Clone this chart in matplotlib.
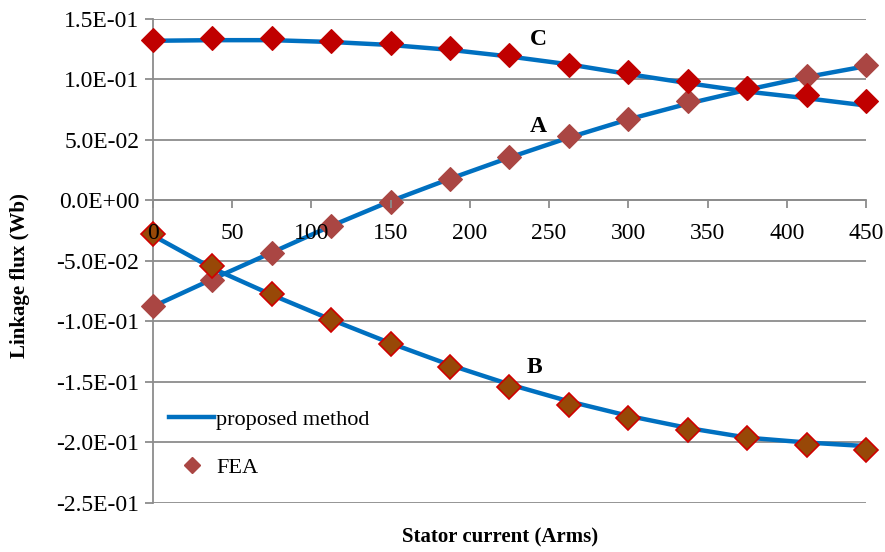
import matplotlib
matplotlib.use("Agg")
import matplotlib.pyplot as plt
from matplotlib.ticker import FuncFormatter, MultipleLocator
from matplotlib.lines import Line2D

plt.rcParams['font.family'] = ['Liberation Serif', 'DejaVu Serif']

# Stator current sample points (Arms)
current = [0, 37.5, 75, 112.5, 150, 187.5, 225, 262.5, 300, 337.5, 375, 412.5, 450]

# Proposed method (analytical) linkage flux per phase (Wb)
model_a = [-0.0876, -0.065, -0.043, -0.021, -0.0005, 0.018, 0.0355, 0.052, 0.067, 0.080, 0.0915, 0.102, 0.111]
model_b = [-0.029, -0.056, -0.078, -0.0985, -0.118, -0.136, -0.152, -0.166, -0.178, -0.188, -0.196, -0.200, -0.203]
model_c = [0.132, 0.1325, 0.1325, 0.131, 0.1285, 0.1245, 0.119, 0.1125, 0.1045, 0.097, 0.090, 0.0845, 0.0785]

# FEA results per phase (Wb)
fea_a = [-0.0876, -0.066, -0.043, -0.0207, -0.001, 0.018, 0.036, 0.053, 0.067, 0.082, 0.093, 0.1025, 0.1116]
fea_b = [-0.028, -0.054, -0.077, -0.099, -0.119, -0.138, -0.154, -0.169, -0.180, -0.190, -0.1967, -0.2017, -0.2066]
fea_c = [0.133, 0.134, 0.134, 0.132, 0.130, 0.126, 0.120, 0.112, 0.1066, 0.099, 0.0926, 0.0868, 0.082]

phase_labels = ["A", "B", "C"]
label_pos = [(238, 0.0615), (236, -0.138), (238, 0.133)]

fig = plt.figure(figsize=(8.85, 5.52), dpi=100)
ax = fig.add_axes([0.1729, 0.0888, 0.8056, 0.8768])

line_color = "#0070C0"
grid_color = "#8C8C8C"

for ys in (model_a, model_b, model_c):
    ax.plot(current, ys, color=line_color, lw=3.2, solid_capstyle="round", zorder=3)

ax.plot(current, fea_a, ls="none", marker="D", ms=12, mfc="#AA4643", mec="#AA4643",
        mew=0.8, zorder=4, clip_on=False)
ax.plot(current, fea_b, ls="none", marker="D", ms=12, mfc="#984807", mec="#D00000",
        mew=1.2, zorder=5, clip_on=False)
ax.plot(current, fea_c, ls="none", marker="D", ms=12, mfc="#C00000", mec="#C00000",
        mew=0.8, zorder=4, clip_on=False)

for lab, (lx, ly) in zip(phase_labels, label_pos):
    ax.text(lx, ly, lab, fontsize=17, fontweight="bold", ha="left", va="center", zorder=6)

ax.set_xlim(0, 450)
ax.set_ylim(-0.25, 0.15)
ax.xaxis.set_major_locator(MultipleLocator(50))
ax.yaxis.set_major_locator(MultipleLocator(0.05))
ax.yaxis.set_major_formatter(FuncFormatter(lambda v, p: f"{round(v, 6) + 0.0:.1E}"))

ax.grid(axis="y", color=grid_color, lw=1.3, zorder=0)
ax.set_axisbelow(True)
# x tick labels sit on top of the markers
ax.xaxis.set_zorder(6)

for side in ("top", "right"):
    ax.spines[side].set_visible(False)
ax.spines["left"].set_color(grid_color)
ax.spines["left"].set_linewidth(1.3)
ax.spines["bottom"].set_position(("data", 0))
ax.spines["bottom"].set_color(grid_color)
ax.spines["bottom"].set_linewidth(1.3)
ax.spines["bottom"].set_zorder(0.5)

ax.tick_params(axis="x", direction="out", length=6, width=1.3, color=grid_color,
               labelsize=17, pad=10)
ax.tick_params(axis="y", direction="out", length=6, width=1.3, color=grid_color,
               labelsize=17, pad=4)

ax.set_ylabel("Linkage flux (Wb)", fontsize=15, fontweight="bold")
ax.yaxis.set_label_coords(-0.172, 0.47)
ax.set_xlabel("Stator current (Arms)", fontsize=15, fontweight="bold")
ax.xaxis.set_label_coords(0.487, -0.05)

handles = [
    Line2D([], [], color=line_color, lw=3.2),
    Line2D([], [], ls="none", marker="D", ms=8, mfc="#AA4643", mec="#AA4643"),
]
ax.legend(handles, ["proposed method", "FEA"], loc="upper left",
          bbox_to_anchor=(-0.005, 0.235), frameon=False, fontsize=16,
          handlelength=2.0, handletextpad=0.1, labelspacing=1.25)

fig.savefig("out.png", dpi=100)
